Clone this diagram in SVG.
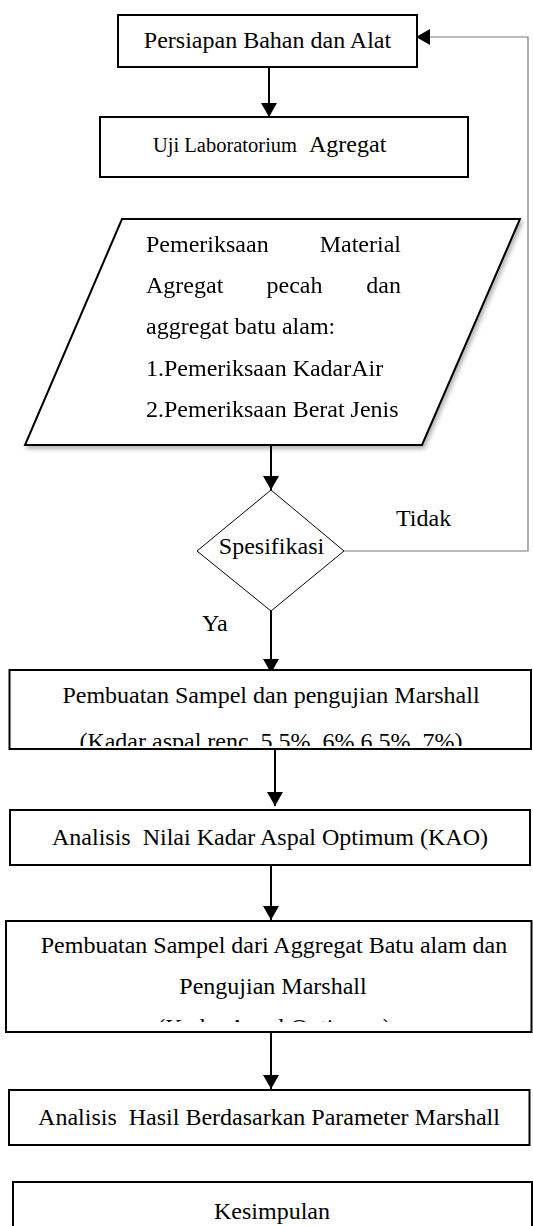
<svg xmlns="http://www.w3.org/2000/svg" width="533" height="1226" viewBox="0 0 533 1226">
<style>
text{font-family:"Liberation Serif","Times New Roman",serif;font-size:24px;fill:#000}
.box{fill:#fff;stroke:#000;stroke-width:2}
.conn{fill:none;stroke:#000;stroke-width:2}
.fb{fill:none;stroke:#777;stroke-width:1.2}
.mid{text-anchor:middle}
</style>
<defs>
<marker id="ah" viewBox="0 0 14 16" refX="14" refY="8" markerWidth="14" markerHeight="16" markerUnits="userSpaceOnUse" orient="auto">
<path d="M0,0 L14,8 L0,16 z" fill="#000"/>
</marker>
<filter id="sh" x="-10%" y="-10%" width="120%" height="130%">
<feDropShadow dx="2" dy="3" stdDeviation="2" flood-color="#000" flood-opacity="0.3"/>
</filter>
<clipPath id="c3"><rect x="0" y="660" width="533" height="86"/></clipPath>
<clipPath id="c5"><rect x="0" y="920" width="533" height="102"/></clipPath>
</defs>
<rect width="533" height="1226" fill="#fff"/>

<g id="connectors">
<path class="conn" d="M269,67 L269,117" marker-end="url(#ah)"/>
<path class="conn" d="M271,429 L271,490" marker-end="url(#ah)"/>
<path class="conn" d="M271,611 L271,673" marker-end="url(#ah)"/>
<path class="conn" d="M275,749 L275,806" marker-end="url(#ah)"/>
<path class="conn" d="M271,865 L271,920" marker-end="url(#ah)"/>
<path class="conn" d="M271,1032 L271,1089" marker-end="url(#ah)"/>
<path class="fb" d="M344,551 L528,551 L528,37 L416,37" marker-end="url(#ah)"/>
<text x="396" y="526">Tidak</text>
<text x="202" y="631">Ya</text>
</g>

<g id="n1">
<rect class="box" x="118" y="15" width="299" height="52"/>
<text class="mid" x="267.5" y="48">Persiapan Bahan dan Alat</text>
</g>

<g id="n2">
<rect class="box" x="100" y="117" width="368" height="60"/>
<text x="153" y="152"><tspan font-size="20.5">Uji Laboratorium </tspan><tspan x="309">Agregat</tspan></text>
</g>

<g id="n3" filter="url(#sh)">
<polygon points="122,219 520,219 422,445 25,445" fill="#fff" stroke="#000" stroke-width="2"/>
<text x="146" y="251.7">Pemeriksaan</text>
<text x="401" y="251.7" text-anchor="end">Material</text>
<text x="146" y="293">Agregat</text>
<text x="266.5" y="293">pecah</text>
<text x="401" y="293" text-anchor="end">dan</text>
<text x="146" y="334.3">aggregat batu alam:</text>
<text x="146" y="375.6">1.Pemeriksaan KadarAir</text>
<text x="146" y="416.9">2.Pemeriksaan Berat Jenis</text>
</g>

<g id="n4">
<polygon points="271,490 344,551 271,611 197,551" fill="#fff" stroke="#000" stroke-width="1"/>
<text class="mid" x="271.5" y="554">Spesifikasi</text>
</g>

<g id="n5">
<rect class="box" x="9.5" y="670" width="521.5" height="79"/>
<text class="mid" x="271" y="702.5">Pembuatan Sampel dan pengujian Marshall</text>
<text class="mid" x="271" y="748.5" clip-path="url(#c3)">(Kadar aspal renc. 5,5%, 6% 6,5%, 7%)</text>
</g>

<g id="n6">
<rect class="box" x="10" y="810" width="520" height="55"/>
<text class="mid" x="270" y="845" xml:space="preserve">Analisis  Nilai Kadar Aspal Optimum (KAO)</text>
</g>

<g id="n7">
<rect class="box" x="6" y="921" width="525.5" height="111"/>
<text class="mid" x="274" y="953">Pembuatan Sampel dari Aggregat Batu alam dan</text>
<text class="mid" x="273" y="994">Pengujian Marshall</text>
<text class="mid" x="274" y="1035" clip-path="url(#c5)">(Kadar Aspal Optimum)</text>
</g>

<g id="n8">
<rect class="box" x="9" y="1090" width="520.5" height="55"/>
<text class="mid" x="269" y="1125" xml:space="preserve">Analisis  Hasil Berdasarkan Parameter Marshall</text>
</g>

<g id="n9">
<rect class="box" x="13" y="1182" width="519" height="60"/>
<text class="mid" x="272" y="1219">Kesimpulan</text>
</g>
</svg>
